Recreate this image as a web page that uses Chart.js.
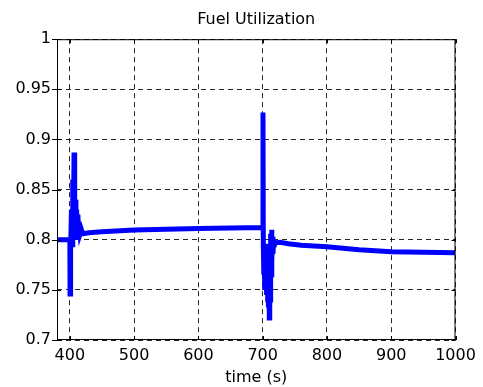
<!DOCTYPE html>
<html>
<head>
<meta charset="utf-8">
<script src="https://cdn.jsdelivr.net/npm/chart.js@4.4.1/dist/chart.umd.min.js"></script>
<style>
  html, body { margin: 0; padding: 0; background: #fff; }
  #wrap { width: 483px; height: 387px; }
</style>
</head>
<body>
<div id="wrap"><canvas id="fuChart" width="483" height="387"></canvas></div>
<script>
// time (s) and fuel utilization
var timeS = [380, 400, 400.3, 400.8, 401.5, 402.5, 403.5, 404.5, 405.5, 406.5, 407.5, 408.5,
  409.5, 410.5, 411.5, 412.5, 413.5, 414.5, 416, 418, 420, 430, 450, 500, 600, 700,
  700.5, 701, 701.8, 702.5, 703.2, 704, 704.7, 705.4, 706.1, 706.8, 707.5, 708.2, 708.9, 709.6,
  710.3, 711, 711.7, 712.4, 713.1, 713.8, 714.5, 715.2, 716, 717, 718, 720, 727, 740, 760,
  800, 850, 900, 950, 1000];
var fuelUtil = [0.800, 0.800, 0.746, 0.800, 0.790, 0.830, 0.795, 0.860, 0.800, 0.887, 0.805, 0.840,
  0.800, 0.830, 0.805, 0.825, 0.808, 0.818, 0.806, 0.810, 0.806, 0.807, 0.808, 0.8096, 0.8113, 0.8123,
  0.927, 0.795, 0.765, 0.792, 0.750, 0.796, 0.752, 0.794, 0.745, 0.790, 0.738, 0.788, 0.735, 0.785,
  0.722, 0.782, 0.740, 0.806, 0.765, 0.810, 0.778, 0.803, 0.786, 0.800, 0.794, 0.797, 0.7975, 0.796, 0.7945,
  0.793, 0.790, 0.788, 0.7875, 0.787];

var xTicks = [400, 500, 600, 700, 800, 900, 1000];
var yTicks = [0.7, 0.75, 0.8, 0.85, 0.9, 0.95, 1];
var yTickLabels = ['0.7', '0.75', '0.8', '0.85', '0.9', '0.95', '1'];

var points = [];
for (var i = 0; i < timeS.length; i++) {
  points.push({ x: timeS[i], y: fuelUtil[i] });
}

Chart.defaults.font.family = '"DejaVu Sans", Arial, sans-serif';
Chart.defaults.font.size = 16;
Chart.defaults.color = '#000';

// solid box round the axes with small ticks, like matlab
var boxPlugin = {
  id: 'box',
  afterDraw: function(chart) {
    var c = chart.ctx, a = chart.chartArea;
    var sx = chart.scales.x, sy = chart.scales.y;
    c.save();
    c.strokeStyle = '#000';
    c.lineWidth = 1;
    c.setLineDash([]);
    c.strokeRect(a.left + 0.5, a.top + 0.5, a.right - a.left - 1, a.bottom - a.top - 1);
    c.beginPath();
    xTicks.forEach(function(v) {
      var px = Math.round(sx.getPixelForValue(v)) + 0.5;
      c.moveTo(px, a.bottom); c.lineTo(px, a.bottom - 4);
      c.moveTo(px, a.top); c.lineTo(px, a.top + 4);
    });
    yTicks.forEach(function(v) {
      var py = Math.round(sy.getPixelForValue(v)) + 0.5;
      c.moveTo(a.left - 5, py); c.lineTo(a.left + 4, py);
      c.moveTo(a.right, py); c.lineTo(a.right - 4, py);
    });
    c.stroke();
    c.restore();
  }
};

var chart = new Chart(document.getElementById('fuChart'), {
  type: 'scatter',
  data: {
    datasets: [{
      data: points,
      showLine: true,
      borderColor: '#0000ff',
      backgroundColor: '#0000ff',
      borderWidth: 5,
      pointRadius: 0,
      tension: 0
    }]
  },
  options: {
    responsive: false,
    animation: false,
    layout: { padding: { left: 0, right: 27.5, top: 0, bottom: 0 } },
    plugins: {
      legend: { display: false },
      tooltip: { enabled: false },
      title: {
        display: true,
        fullSize: false,
        text: 'Fuel Utilization',
        font: { size: 16, weight: 'normal' },
        padding: { top: 10, bottom: 10 }
      }
    },
    scales: {
      x: {
        type: 'linear',
        min: 380,
        max: 1000,
        afterBuildTicks: function(scale) {
          scale.ticks = xTicks.map(function(v) { return { value: v }; });
        },
        afterFit: function(scale) { scale.height = 47; },
        grid: { color: 'rgba(0,0,0,0.85)', lineWidth: 1, drawTicks: false },
        border: { display: false, dash: [5, 4] },
        ticks: { padding: 6, maxRotation: 0, autoSkip: false,
          callback: function(v) { return String(v); } },
        title: { display: true, text: 'time (s)', padding: { top: 0, bottom: 0 } }
      },
      y: {
        min: 0.7,
        max: 1,
        afterBuildTicks: function(scale) {
          scale.ticks = yTicks.map(function(v) { return { value: v }; });
        },
        afterFit: function(scale) { scale.width = 57; },
        grid: { color: 'rgba(0,0,0,0.85)', lineWidth: 1, drawTicks: false },
        border: { display: false, dash: [5, 4] },
        ticks: { padding: 6, autoSkip: false,
          callback: function(v, idx) { return yTickLabels[idx]; } }
      }
    }
  },
  plugins: [boxPlugin]
});
</script>
</body>
</html>
